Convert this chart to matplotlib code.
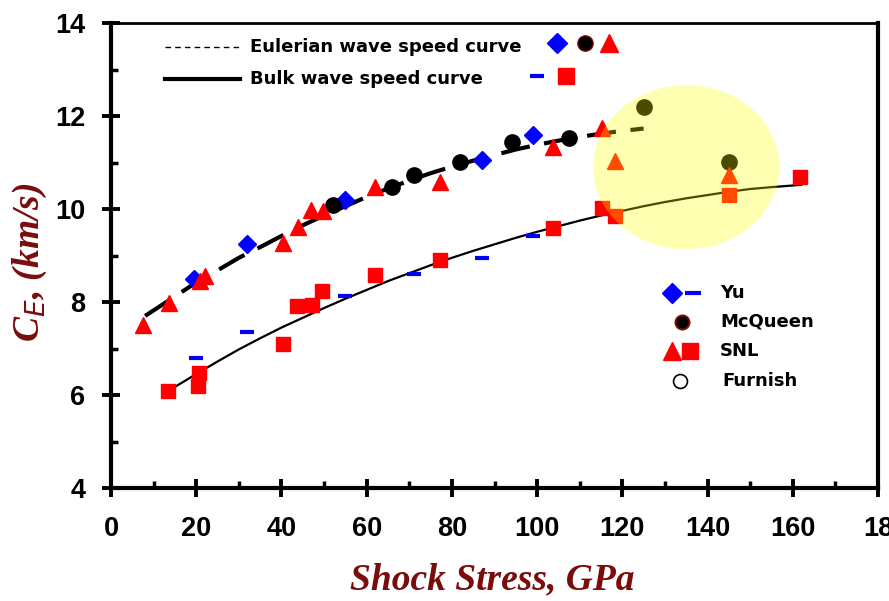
import numpy as np
import matplotlib
matplotlib.use("Agg")
import matplotlib.pyplot as plt
from matplotlib.patches import Ellipse

# fitted curves
euler_x = [8, 15, 20, 25, 30, 35, 40, 45, 50, 55, 60, 65, 70, 75, 80, 85, 90, 95, 100, 105, 110, 115, 120, 125]
euler_y = [7.70, 8.12, 8.42, 8.68, 8.95, 9.18, 9.42, 9.65, 9.86, 10.06, 10.26, 10.44, 10.61, 10.77, 10.91,
           11.04, 11.16, 11.28, 11.38, 11.47, 11.55, 11.62, 11.68, 11.73]
bulk_x = [14, 20, 25, 30, 35, 40, 45, 50, 55, 60, 65, 70, 75, 80, 85, 90, 95, 100, 105, 110, 115, 120,
          125, 130, 135, 140, 145, 150, 155, 162]
bulk_y = [6.12, 6.45, 6.72, 6.98, 7.22, 7.45, 7.66, 7.87, 8.07, 8.26, 8.45, 8.62, 8.79, 8.95, 9.10,
          9.24, 9.38, 9.51, 9.63, 9.75, 9.86, 9.96, 10.06, 10.15, 10.23, 10.30, 10.37, 10.43, 10.47, 10.52]

# Yu
yu_d_x = [19.5, 32, 55, 87, 99]
yu_d_y = [8.50, 9.25, 10.20, 11.05, 11.60]
yu_b_x = [20, 32, 55, 71, 87, 99]
yu_b_y = [6.80, 7.35, 8.13, 8.60, 8.95, 9.42]

# McQueen
mcq_x = [52, 66, 71, 82, 94, 107.5, 125, 145]
mcq_y = [10.08, 10.47, 10.73, 11.02, 11.44, 11.53, 12.20, 11.02]

# SNL
snl_t_x = [7.5, 13.6, 21, 22, 40.4, 44, 47, 49.7, 62, 77.2, 103.8, 115.3, 118.3, 145]
snl_t_y = [7.50, 7.98, 8.45, 8.55, 9.27, 9.62, 9.98, 9.95, 10.47, 10.57, 11.33, 11.74, 11.03, 10.73]
snl_s_x = [13.4, 20.5, 20.7, 40.4, 43.7, 47.2, 49.5, 62, 77.2, 103.8, 115.3, 118.3, 145.1, 161.7]
snl_s_y = [6.09, 6.20, 6.47, 7.09, 7.91, 7.94, 8.24, 8.58, 8.90, 9.59, 10.02, 9.85, 10.30, 10.69]

maroon = "#7a0c0c"

fig = plt.figure(figsize=(8.89, 6.01), dpi=100)
ax = fig.add_axes([111 / 889, 1 - 488 / 601, 767 / 889, 465 / 601])

ax.plot(euler_x, euler_y, color="black", lw=3, dashes=(7, 3.5), zorder=2)
ax.plot(bulk_x, bulk_y, color="black", lw=1.6, zorder=2)

ax.plot(yu_b_x, yu_b_y, ls="none", marker="_", ms=10, mew=3, color="#0000ff", zorder=3)
ax.plot(snl_s_x, snl_s_y, ls="none", marker="s", ms=10, color="#ff0000", mec="#ff0000", zorder=3)
ax.plot(yu_d_x, yu_d_y, ls="none", marker="D", ms=9, color="#0000ff", zorder=4)
ax.plot(mcq_x, mcq_y, ls="none", marker="o", ms=11, color="black", zorder=4)
ax.plot(snl_t_x, snl_t_y, ls="none", marker="^", ms=12, color="#ff0000", zorder=5)

# yellow highlight
ax.add_patch(Ellipse((135, 10.9), 43.7, 3.53, facecolor="#ffff00", alpha=0.3, edgecolor="none", zorder=6))

ax.set_xlim(0, 180)
ax.set_ylim(4, 14)
ax.set_xticks(np.arange(0, 181, 20))
ax.set_xticks(np.arange(10, 180, 20), minor=True)
ax.set_yticks(np.arange(4, 15, 2))
ax.set_yticks(np.arange(5, 14, 2), minor=True)
ax.set_xticklabels(["0", "20", "40", "60", "80", "100", "120", "140", "160", "18"])

ax.tick_params(which="major", direction="inout", length=13, width=2.8)
ax.tick_params(which="minor", direction="in", length=5, width=2.5)
ax.tick_params(axis="x", which="major", pad=14)
ax.tick_params(axis="y", which="major", pad=12)
for lab in ax.get_xticklabels() + ax.get_yticklabels():
    lab.set_fontfamily("Liberation Sans")
    lab.set_fontweight("bold")
    lab.set_fontsize(19.5)
for s in ["left", "bottom", "right"]:
    ax.spines[s].set_linewidth(3)
ax.spines["top"].set_linewidth(2)

# top legend
tf = ax.transAxes
lfont = dict(family="DejaVu Sans", weight="bold", size=13, va="center")
ax.plot([0.070, 0.168], [0.948, 0.948], transform=tf, color="black", lw=1, dashes=(4, 3), clip_on=False)
ax.plot([0.070, 0.168], [0.880, 0.880], transform=tf, color="black", lw=3, clip_on=False)
ax.text(0.181, 0.948, "Eulerian wave speed curve", transform=tf, **lfont)
ax.text(0.181, 0.880, "Bulk wave speed curve", transform=tf, **lfont)
ax.plot([0.581], [0.957], transform=tf, marker="D", ms=10, color="#0000ff", clip_on=False)
ax.plot([0.618], [0.957], transform=tf, marker="o", ms=11, color="black", mec="#7a0c0c", clip_on=False)
ax.plot([0.649], [0.957], transform=tf, marker="^", ms=13, color="#ff0000", clip_on=False)
ax.plot([0.555], [0.886], transform=tf, marker="_", ms=10, mew=3, color="#0000ff", clip_on=False)
ax.plot([0.593], [0.886], transform=tf, marker="s", ms=11, color="#ff0000", clip_on=False)

# lower right legend
ax.plot([0.731], [0.419], transform=tf, marker="D", ms=10, color="#0000ff")
ax.plot([0.759], [0.419], transform=tf, marker="_", ms=12, mew=3, color="#0000ff")
ax.text(0.794, 0.419, "Yu", transform=tf, **lfont)
ax.plot([0.744], [0.357], transform=tf, marker="o", ms=10, color="black", mec="#7a0c0c", mew=1.5)
ax.text(0.794, 0.357, "McQueen", transform=tf, **lfont)
ax.plot([0.731], [0.295], transform=tf, marker="^", ms=13, color="#ff0000")
ax.plot([0.755], [0.295], transform=tf, marker="s", ms=11, color="#ff0000")
ax.text(0.794, 0.295, "SNL", transform=tf, **lfont)
ax.plot([0.742], [0.230], transform=tf, marker="o", ms=10, mfc="white", mec="black", mew=1.2)
ax.text(0.797, 0.230, "Furnish", transform=tf, **lfont)

fig.text(492 / 889, 1 - 580 / 601, "Shock Stress, GPa", family="Liberation Serif", weight="bold",
         style="italic", size=27, color=maroon, ha="center", va="center")
fig.text(30 / 889, 1 - 262 / 601, r"C$_{\mathbf{\mathit{E}}}$, (km/s)", family="Liberation Serif",
         weight="bold", style="italic", size=27, color=maroon, ha="center", va="center", rotation=90)

fig.savefig("out.png", dpi=100)
